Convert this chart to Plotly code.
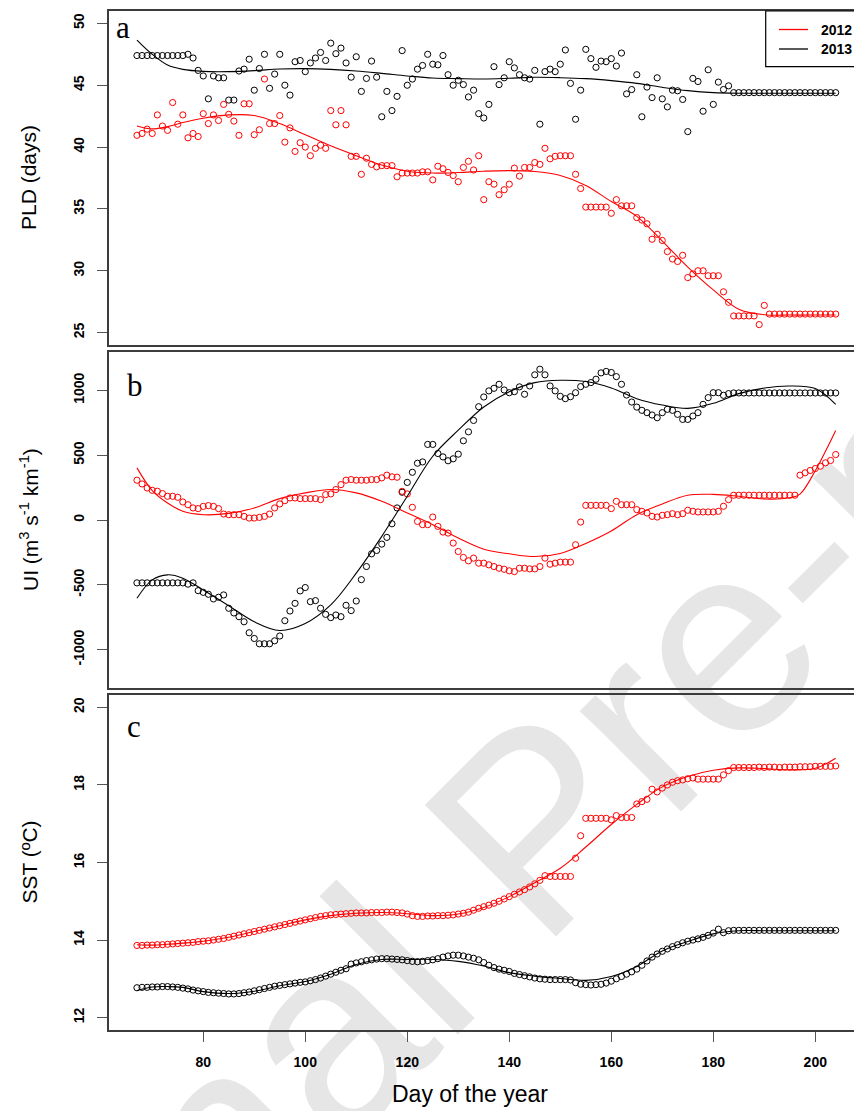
import plotly.graph_objects as go

# ---------------------------------------------------------------- data
days = list(range(67, 205))

pld_2012 = [
    40.95, 41.1, 41.45, 41.1, 42.6, 41.7, 41.35, 43.6, 41.85, 42.6,
    40.75, 41.1, 40.85, 42.7, 41.9, 42.6, 42.15, 43.45, 42.65, 42.1,
    40.95, 43.5, 43.5, 41.0, 41.4, 45.5, 41.9, 41.9, 42.55, 40.4,
    41.55, 39.65, 40.35, 40.0, 39.3, 39.9, 40.15, 39.9, 42.95, 41.8,
    42.95, 41.8, 39.25, 39.25, 37.8, 39.1, 38.6, 38.4, 38.5, 38.5,
    38.5, 37.6, 37.9, 37.9, 37.9, 37.9, 38.0, 38.0, 37.35, 38.45,
    38.25, 37.95, 37.7, 37.2, 38.35, 38.85, 38.15, 39.3, 35.75, 37.2,
    37.0, 36.15, 36.55, 37.0, 38.3, 37.65, 38.35, 38.35, 38.75, 38.6,
    39.9, 39.05, 39.25, 39.3, 39.3, 39.3, 37.8, 36.65, 35.15, 35.15,
    35.15, 35.15, 35.15, 34.65, 35.75, 35.25, 35.25, 35.25, 34.3, 34.1,
    33.8, 32.55, 32.95, 32.45, 31.55, 30.95, 30.75, 31.25, 29.45, 29.75,
    30.0, 30.0, 29.6, 29.6, 29.6, 28.3, 27.45, 26.35, 26.35, 26.35,
    26.35, 26.35, 25.65, 27.2, 26.5, 26.5, 26.5, 26.5, 26.5, 26.5,
    26.5, 26.5, 26.5, 26.5, 26.5, 26.5, 26.5, 26.5,
]

pld_2013 = [
    47.4, 47.4, 47.4, 47.4, 47.4, 47.4, 47.4, 47.4, 47.4, 47.4,
    47.5, 47.2, 46.2, 45.75, 43.9, 45.75, 45.6, 45.6, 43.8, 43.8,
    46.15, 46.3, 47.1, 44.6, 46.35, 47.5, 44.75, 45.9, 47.5, 45.0,
    44.2, 46.9, 47.0, 46.1, 46.8, 47.2, 47.65, 47.0, 48.4, 47.55,
    48.0, 46.8, 45.65, 47.3, 44.5, 45.55, 46.95, 45.65, 42.45, 44.5,
    42.95, 44.1, 47.8, 45.0, 45.5, 46.3, 46.6, 47.5, 46.7, 46.65,
    47.4, 45.85, 45.0, 45.4, 45.05, 44.05, 44.6, 42.7, 42.35, 43.45,
    46.5, 45.05, 45.6, 46.9, 46.4, 45.85, 45.6, 45.5, 46.2, 41.85,
    46.1, 46.3, 46.1, 46.7, 47.85, 45.15, 42.25, 44.6, 47.9, 47.15,
    46.45, 46.95, 46.9, 47.15, 46.55, 47.6, 44.3, 44.65, 45.85, 42.45,
    44.85, 44.0, 45.6, 43.9, 43.25, 44.6, 44.55, 43.85, 41.25, 45.55,
    45.3, 42.9, 46.25, 43.45, 45.25, 44.65, 44.95, 44.4, 44.4, 44.4,
    44.4, 44.4, 44.4, 44.4, 44.4, 44.4, 44.4, 44.4, 44.4, 44.4,
    44.4, 44.4, 44.4, 44.4, 44.4, 44.4, 44.4, 44.4,
]

ui_2012 = [
    307, 278, 247, 229, 222, 204, 183, 183, 175, 139,
    118, 93, 88, 105, 111, 105, 88, 46, 41, 41,
    41, 28, 15, 15, 20, 28, 46, 93, 124, 149,
    170, 170, 165, 165, 165, 165, 157, 196, 201, 235,
    273, 307, 312, 307, 307, 307, 312, 312, 325, 346,
    333, 330, 221, 201, 98, -11, -36, -36, 23, -49,
    -93, -101, -178, -243, -289, -315, -294, -333, -333, -346,
    -359, -372, -380, -392, -398, -372, -372, -377, -377, -359,
    -294, -341, -333, -325, -325, -325, -191, -16, 113, 113,
    113, 113, 113, 88, 144, 118, 118, 118, 80, 67,
    54, 28, 23, 36, 41, 49, 41, 49, 75, 67,
    62, 62, 62, 62, 67, 106, 157, 191, 191, 191,
    191, 191, 191, 191, 191, 191, 191, 191, 191, 191,
    346, 364, 382, 397, 415, 441, 459, 505,
]

ui_2013 = [
    -485, -485, -485, -485, -485, -485, -485, -485, -485, -485,
    -495, -485, -545, -558, -573, -609, -596, -578, -681, -717,
    -746, -785, -870, -914, -955, -955, -955, -932, -895, -777,
    -702, -643, -547, -521, -630, -622, -681, -728, -753, -733,
    -746, -658, -699, -625, -460, -359, -261, -235, -186, -134,
    -29, 93, 214, 290, 368, 438, 448, 583, 583, 513,
    487, 457, 472, 508, 611, 680, 768, 874, 949, 996,
    1016, 1047, 1003, 982, 990, 1027, 970, 1034, 1120, 1163,
    1120, 1034, 996, 954, 936, 951, 982, 1029, 1047, 1060,
    1086, 1135, 1146, 1138, 1106, 1047, 964, 910, 871, 846,
    828, 810, 789, 828, 854, 846, 815, 776, 776, 802,
    828, 892, 944, 982, 982, 962, 975, 980, 980, 980,
    980, 980, 980, 980, 980, 980, 980, 980, 980, 980,
    980, 980, 980, 980, 980, 980, 980, 980,
]

sst_2012 = [
    13.86, 13.86, 13.87, 13.87, 13.88, 13.88, 13.89, 13.90, 13.91, 13.92,
    13.93, 13.94, 13.96, 13.97, 13.98, 14.00, 14.02, 14.04, 14.07, 14.10,
    14.13, 14.16, 14.19, 14.22, 14.25, 14.28, 14.31, 14.34, 14.37, 14.40,
    14.43, 14.46, 14.49, 14.52, 14.55, 14.58, 14.61, 14.63, 14.65, 14.66,
    14.67, 14.68, 14.69, 14.70, 14.70, 14.70, 14.71, 14.71, 14.71, 14.72,
    14.72, 14.71, 14.70, 14.67, 14.63, 14.61, 14.61, 14.62, 14.62, 14.63,
    14.63, 14.64, 14.65, 14.67, 14.69, 14.72, 14.77, 14.82, 14.86, 14.90,
    14.95, 15.00, 15.06, 15.12, 15.18, 15.24, 15.30, 15.37, 15.45, 15.54,
    15.66, 15.64, 15.64, 15.64, 15.64, 15.64, 16.11, 16.69, 17.14, 17.14,
    17.14, 17.14, 17.14, 17.10, 17.21, 17.16, 17.16, 17.16, 17.51, 17.57,
    17.63, 17.89, 17.82, 17.92, 18.00, 18.07, 18.11, 18.13, 18.16, 18.18,
    18.15, 18.15, 18.15, 18.15, 18.15, 18.26, 18.37, 18.45, 18.45, 18.45,
    18.45, 18.45, 18.46, 18.45, 18.46, 18.46, 18.45, 18.46, 18.46, 18.46,
    18.47, 18.47, 18.47, 18.48, 18.48, 18.48, 18.48, 18.49,
]

sst_2013 = [
    12.77, 12.78, 12.78, 12.79, 12.79, 12.80, 12.80, 12.79, 12.78, 12.76,
    12.74, 12.71, 12.69, 12.67, 12.65, 12.64, 12.63, 12.62, 12.61, 12.61,
    12.62, 12.64, 12.66, 12.69, 12.72, 12.75, 12.78, 12.81, 12.83, 12.85,
    12.87, 12.89, 12.91, 12.92, 12.95, 12.98, 13.02, 13.07, 13.12, 13.17,
    13.22, 13.26, 13.38, 13.41, 13.44, 13.47, 13.49, 13.51, 13.52, 13.52,
    13.51, 13.50, 13.49, 13.47, 13.45, 13.44, 13.45, 13.47, 13.49, 13.52,
    13.56, 13.59, 13.61, 13.61, 13.59, 13.56, 13.53, 13.49, 13.42, 13.35,
    13.29, 13.25, 13.22, 13.19, 13.14, 13.11, 13.08, 13.05, 13.02, 13.00,
    12.99, 12.98, 12.98, 12.98, 12.98, 12.97, 12.90, 12.86, 12.85, 12.84,
    12.85, 12.86, 12.89, 12.94, 13.00, 13.06, 13.12, 13.18, 13.25, 13.35,
    13.46, 13.56, 13.64, 13.71, 13.77, 13.83, 13.88, 13.93, 13.97, 14.00,
    14.03, 14.07, 14.12, 14.18, 14.28, 14.19, 14.24, 14.25, 14.25, 14.25,
    14.25, 14.25, 14.25, 14.25, 14.25, 14.25, 14.25, 14.25, 14.25, 14.25,
    14.25, 14.25, 14.25, 14.25, 14.25, 14.25, 14.25, 14.25,
]

# smoothed trends, sampled along the season
fit_days = [67, 70, 73, 76, 80, 85, 90, 95, 100, 105, 110, 115, 120, 125, 130,
            135, 140, 145, 150, 155, 160, 165, 170, 175, 180, 185, 190, 195, 200, 204]

pld_2012_fit = [41.71, 41.47, 41.65, 41.98, 42.33, 42.6, 42.55, 41.9, 41.0, 40.1,
                39.3, 38.55, 38.05, 37.9, 37.94, 38.05, 38.1, 38.02, 37.7, 36.9,
                35.6, 34.4, 32.4, 30.3, 28.46, 26.9, 26.45, 26.42, 26.42, 26.42]
pld_2013_fit = [48.65, 47.5, 46.63, 46.28, 46.12, 46.1, 46.18, 46.31, 46.34, 46.28,
                46.15, 45.96, 45.75, 45.58, 45.53, 45.5, 45.56, 45.64, 45.61, 45.53,
                45.37, 45.15, 44.83, 44.56, 44.4, 44.35, 44.35, 44.35, 44.35, 44.35]

ui_2013_fit = [-604, -462, -423, -449, -540, -661, -785, -852, -798, -655,
               -410, -126, 183, 492, 693, 872, 990, 1060, 1078, 1068,
               1019, 936, 887, 861, 900, 975, 1018, 1034, 1014, 892]
ui_2012_fit_days = [67, 70, 73, 76, 80, 85, 90, 95, 100, 105, 110, 115, 120, 125, 130,
                    135, 140, 145, 150, 155, 160, 165, 170, 175, 180, 185, 190, 195,
                    197, 200, 202, 204]
ui_2012_fit = [402, 227, 131, 67, 41, 51, 93, 165, 209, 235, 209, 144, 54, -36, -139,
               -225, -261, -282, -258, -181, -85, 41, 124, 191, 198, 183, 162, 172,
               200, 380, 530, 691]

sst_2012_fit = [13.88, 13.87, 13.89, 13.92, 13.97, 14.07, 14.22, 14.37, 14.52, 14.63,
                14.69, 14.71, 14.68, 14.63, 14.67, 14.84, 15.12, 15.48, 15.85, 16.4,
                16.98, 17.5, 17.95, 18.22, 18.38, 18.44, 18.42, 18.39, 18.43, 18.69]
sst_2013_fit = [12.70, 12.79, 12.80, 12.78, 12.67, 12.62, 12.68, 12.82, 12.93, 13.12,
                13.37, 13.50, 13.50, 13.50, 13.45, 13.33, 13.16, 13.07, 13.01, 12.96,
                13.06, 13.32, 13.72, 13.96, 14.16, 14.24, 14.24, 14.24, 14.24, 14.24]

x_ticks = [80, 100, 120, 140, 160, 180, 200]
pld_ticks = [25, 30, 35, 40, 45, 50]
ui_ticks = [-1000, -500, 0, 500, 1000]
ui_tick_text = ["-1000", "-500", "0", "500", "1000"]
sst_ticks = [12, 14, 16, 18, 20]

years = ["2012", "2013"]
year_colors = {"2012": "#ff0000", "2013": "#000000"}

# ---------------------------------------------------------------- layout helpers
W, H = 854, 1111
X_LEFT = 109
X_RANGE = [61.52, 207.59]
PANELS = [(11, 345), (352, 688), (695, 1030)]
Y_RANGES = [[24.0, 51.0], [-1296, 1296], [11.68, 20.32]]

AXIS_COL = "#3c3c3c"
SANS = "Liberation Sans, Arial, Helvetica, sans-serif"
SERIF = "Liberation Serif, Times New Roman, serif"


def fx(p):
    return p / W


def fy(p):
    return 1 - p / H


fig = go.Figure()

series = [
    (pld_2012, pld_2013, fit_days, pld_2012_fit, fit_days, pld_2013_fit),
    (ui_2012, ui_2013, ui_2012_fit_days, ui_2012_fit, fit_days, ui_2013_fit),
    (sst_2012, sst_2013, fit_days, sst_2012_fit, fit_days, sst_2013_fit),
]

for i, (v12, v13, fd12, f12, fd13, f13) in enumerate(series):
    sfx = "" if i == 0 else str(i + 1)
    xa, ya = "x" + sfx, "y" + sfx
    for vals, yr in ((v13, "2013"), (v12, "2012")):
        fig.add_trace(go.Scatter(
            x=days, y=vals, mode="markers", xaxis=xa, yaxis=ya, showlegend=False,
            marker=dict(symbol="circle-open", size=6.2,
                        line=dict(width=1.0, color=year_colors[yr]),
                        color=year_colors[yr]),
        ))
    for fd, fv, yr in ((fd13, f13, "2013"), (fd12, f12, "2012")):
        fig.add_trace(go.Scatter(
            x=fd, y=fv, mode="lines", xaxis=xa, yaxis=ya, showlegend=False,
            line=dict(color=year_colors[yr], width=1.1, shape="spline", smoothing=1.0),
        ))

layout_axes = {}
tick_sets = [(pld_ticks, [str(t) for t in pld_ticks]),
             (ui_ticks, ui_tick_text),
             (sst_ticks, [str(t) for t in sst_ticks])]
for i, (top, bot) in enumerate(PANELS):
    sfx = "" if i == 0 else str(i + 1)
    bottom_panel = i == 2
    layout_axes["xaxis" + sfx] = dict(
        domain=[fx(X_LEFT), 1.0], range=X_RANGE, anchor="y" + sfx,
        showline=True, mirror=True, linecolor=AXIS_COL, linewidth=1.8,
        showgrid=False, zeroline=False, automargin=False,
        ticks="outside" if bottom_panel else "", ticklen=10, tickwidth=1.4,
        tickcolor="#555555",
        tickvals=x_ticks if bottom_panel else [],
        showticklabels=bottom_panel,
        tickfont=dict(family=SANS, size=14, color="black", weight="bold"),
        ticklabelstandoff=8,
    )
    tv, tt = tick_sets[i]
    layout_axes["yaxis" + sfx] = dict(
        domain=[fy(bot), fy(top)], range=Y_RANGES[i], anchor="x" + sfx,
        showline=True, mirror=False, linecolor=AXIS_COL, linewidth=1.8,
        showgrid=False, zeroline=False, automargin=False,
        ticks="outside", ticklen=10, tickwidth=1.4, tickcolor="#555555",
        tickvals=tv, ticktext=tt, tickangle=-90,
        tickfont=dict(family=SANS, size=14, color="black", weight="bold"),
        ticklabelstandoff=8,
    )

annotations = []
# axis titles
y_titles = ["PLD (days)",
            "UI (m<sup>3</sup> s<sup>-1</sup> km<sup>-1</sup>)",
            "SST (ºC)"]
for (top, bot), title in zip(PANELS, y_titles):
    annotations.append(dict(
        x=fx(29), y=fy((top + bot) / 2), xref="paper", yref="paper",
        text=title, textangle=-90, showarrow=False,
        font=dict(family=SANS, size=21, color="black"),
        xanchor="center", yanchor="middle",
    ))
annotations.append(dict(
    x=fx(470), y=fy(1094), xref="paper", yref="paper", text="Day of the year",
    showarrow=False, font=dict(family=SANS, size=23, color="black"),
    xanchor="center", yanchor="middle",
))
# panel letters
for letter, (lx, ly) in zip("abc", [(123, 28), (135, 385), (134, 727)]):
    annotations.append(dict(
        x=fx(lx), y=fy(ly), xref="paper", yref="paper", text=letter,
        showarrow=False, font=dict(family=SERIF, size=31, color="black"),
        xanchor="center", yanchor="middle",
    ))
# legend entries
for yr, ly in zip(years, [30, 49]):
    annotations.append(dict(
        x=fx(819), y=fy(ly), xref="paper", yref="paper", text=yr,
        showarrow=False, font=dict(family=SANS, size=14, color="black", weight="bold"),
        xanchor="left", yanchor="middle",
    ))

shapes = [
    # journal watermark, kept underneath the data
    dict(type="rect", xref="paper", yref="paper", layer="below",
         x0=fx(510), x1=fx(520), y0=fy(815), y1=fy(805),
         line=dict(width=0), fillcolor="rgba(0,0,0,0)",
         label=dict(text="Journal Pre-proof", textangle=-45,
                    textposition="middle center",
                    font=dict(family=SANS, size=270, color="#e6e6e6"))),
    # legend box
    dict(type="rect", xref="paper", yref="paper",
         x0=fx(765.7), x1=fx(900), y0=fy(66.7), y1=fy(11),
         line=dict(color="black", width=1.2), fillcolor="white"),
]
for yr, ly in zip(years, [29.5, 49]):
    shapes.append(dict(type="line", xref="paper", yref="paper",
                       x0=fx(779), x1=fx(808), y0=fy(ly), y1=fy(ly),
                       line=dict(color=year_colors[yr], width=1.3)))

fig.update_layout(
    width=W, height=H,
    margin=dict(l=0, r=0, t=0, b=0),
    paper_bgcolor="white",
    plot_bgcolor="rgba(0,0,0,0)",
    showlegend=False,
    annotations=annotations,
    shapes=shapes,
    **layout_axes,
)

fig.write_html("out.html")
